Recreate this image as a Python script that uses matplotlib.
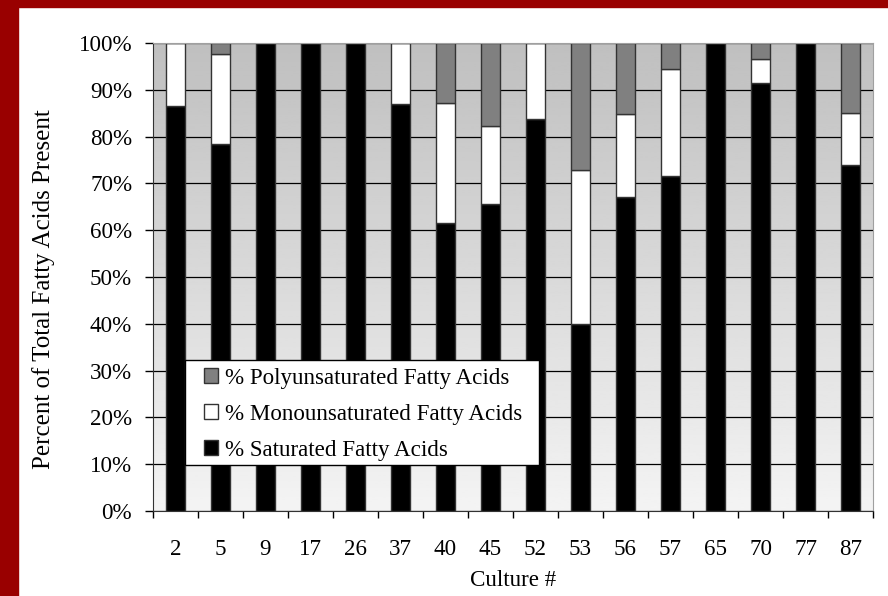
import numpy as np
import matplotlib.pyplot as plt
from matplotlib.patches import Rectangle

plt.rcParams['font.family'] = ['Liberation Serif', 'DejaVu Serif']

cultures = ['2', '5', '9', '17', '26', '37', '40', '45', '52', '53', '56', '57', '65', '70', '77', '87']
saturated = [86.5, 78.5, 100, 100, 100, 87.0, 61.5, 65.7, 83.7, 40.0, 67.2, 71.6, 100, 91.5, 100, 73.9]
mono = [13.5, 19.2, 0, 0, 0, 13.0, 25.7, 16.6, 16.3, 32.8, 17.6, 22.8, 0, 5.0, 0, 11.1]
poly = [0, 2.3, 0, 0, 0, 0, 12.8, 17.7, 0, 27.2, 15.2, 5.6, 0, 3.5, 0, 15.0]

fs = 16.6

fig = plt.figure(figsize=(8.88, 5.96), dpi=100)
# red frame on left and top
fig.patches.append(Rectangle((0, 0), 18 / 888, 1, transform=fig.transFigure,
                             color='#990000', zorder=0))
fig.patches.append(Rectangle((0, 1 - 7 / 596), 1, 7 / 596, transform=fig.transFigure,
                             color='#990000', zorder=0))

ax = fig.add_axes([153 / 888, 85 / 596, 720 / 888, 468 / 596])
x = np.arange(len(cultures))

# gray (top) to white (bottom) gradient background
grad = np.linspace(0.75, 0.955, 256).reshape(-1, 1)
ax.imshow(grad, cmap='gray', vmin=0, vmax=1, aspect='auto', origin='upper',
          extent=[-0.5, len(cultures) - 0.5, 0, 100], zorder=0)

ax.set_axisbelow(True)
ax.yaxis.grid(True, color='black', linewidth=0.9)

w = 0.42
sat = np.array(saturated)
mon = np.array(mono)
pol = np.array(poly)
ax.bar(x, sat, w, color='black', edgecolor='#333333', linewidth=1.0,
       label='% Saturated Fatty Acids', zorder=2)
ax.bar(x, mon, w, bottom=sat, color='white', edgecolor='#333333', linewidth=1.0,
       label='% Monounsaturated Fatty Acids', zorder=2)
ax.bar(x, pol, w, bottom=sat + mon, color='#808080', edgecolor='#333333', linewidth=1.0,
       label='% Polyunsaturated Fatty Acids', zorder=2)

ax.set_xlim(-0.5, len(cultures) - 0.5)
ax.set_ylim(0, 100)
ax.set_yticks(np.arange(0, 101, 10))
ax.set_yticklabels([f'{v}%' for v in range(0, 101, 10)], fontsize=fs)
ax.set_xticks(x)
ax.set_xticklabels(cultures, fontsize=fs)
ax.set_xticks(np.arange(-0.5, len(cultures), 1), minor=True)
ax.tick_params(axis='x', which='major', length=0, pad=20)
ax.tick_params(axis='x', which='minor', length=5, direction='out', width=1)
ax.tick_params(axis='y', length=6, direction='out', width=1, pad=9)

for s in ['top', 'right']:
    ax.spines[s].set_color('#a0a0a0')
for s in ['left', 'bottom']:
    ax.spines[s].set_color('#333333')

ax.set_xlabel('Culture #', fontsize=fs, labelpad=7)
ax.set_ylabel('Percent of Total Fatty Acids Present', fontsize=18)
ax.yaxis.set_label_coords(-98 / 720, 0.474)

# legend: separate frame so the padding can differ left/right vs top/bottom
box = Rectangle((32 / 720, 46 / 468), 354 / 720, 105 / 468, transform=ax.transAxes,
                facecolor='white', edgecolor='black', linewidth=1.0, zorder=4)
ax.add_patch(box)
h, l = ax.get_legend_handles_labels()
leg = ax.legend(h[::-1], l[::-1], loc='upper left', bbox_to_anchor=(51 / 720, 143 / 468),
                fontsize=fs, frameon=False, handlelength=0.62, handleheight=0.62,
                handletextpad=0.3, labelspacing=0.64, borderpad=0, borderaxespad=0)
leg.set_zorder(5)

fig.savefig('out.png', dpi=100)
